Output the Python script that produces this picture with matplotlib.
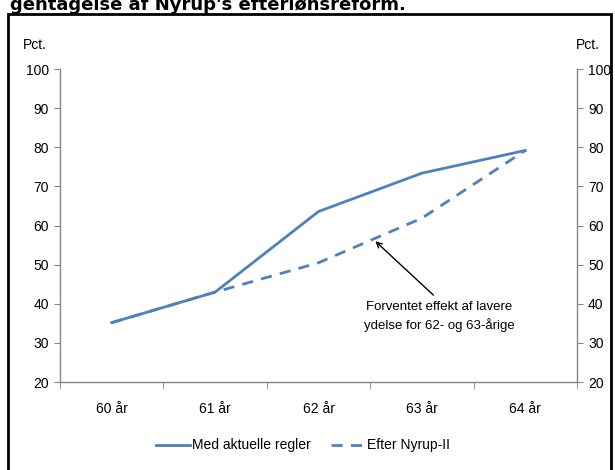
import matplotlib
matplotlib.use("Agg")
import matplotlib.pyplot as plt
from matplotlib.patches import Rectangle

plt.rcParams["font.family"] = ["Liberation Sans", "DejaVu Sans"]

categories = ["60 år", "61 år", "62 år", "63 år", "64 år"]
aktuelle = [35.2, 43.0, 63.6, 73.4, 79.2]
nyrup = [35.2, 43.0, 50.5, 61.9, 79.2]
yticks = [20, 30, 40, 50, 60, 70, 80, 90, 100]

blue = "#4F81BD"
gray = "#868686"

fig = plt.figure(figsize=(6.15, 4.7), dpi=100)
ax = fig.add_axes([0.0976, 0.187, 0.8406, 0.666])

x = list(range(len(categories)))
ax.plot(x, aktuelle, color=blue, lw=2, label="Med aktuelle regler")
ax.plot(x, nyrup, color=blue, lw=2, ls=(0, (4, 3)), label="Efter Nyrup-II")

ax.set_xlim(-0.5, len(categories) - 0.5)
ax.set_ylim(20, 100)
ax.set_yticks(yticks)
ax.set_xticks(x)
ax.set_xticklabels(categories)
ax.set_xticks([i - 0.5 for i in range(len(categories) + 1)], minor=True)
ax.tick_params(axis="x", which="major", length=0, pad=14, labelsize=10)
ax.tick_params(axis="x", which="minor", length=5, color=gray, direction="out")
ax.tick_params(axis="y", length=4, color=gray, labelsize=10, pad=4,
               labelleft=True, labelright=True, left=True, right=True)

for side in ["left", "right", "bottom"]:
    ax.spines[side].set_color(gray)
    ax.spines[side].set_linewidth(1)
ax.spines["top"].set_visible(False)

fig.text(35 / 615, 1 - 45 / 470, "Pct.", ha="center", va="center", fontsize=10)
fig.text(588 / 615, 1 - 45 / 470, "Pct.", ha="center", va="center", fontsize=10)

ax.annotate("Forventet effekt af lavere\nydelse for 62- og 63-årige",
            xy=(2.55, 56.0), xytext=(3.17, 40.8),
            ha="center", va="top", fontsize=9.5, linespacing=1.5,
            arrowprops=dict(arrowstyle="->", color="black", lw=1,
                            relpos=(0.5, 1.0), shrinkA=3, shrinkB=0))

ax.legend(loc="upper center", bbox_to_anchor=(0.47, -0.14), ncol=2, frameon=False,
          fontsize=10, handlelength=2.5, handletextpad=0.1, columnspacing=1.5)

fig.patches.append(Rectangle((8 / 615, -0.05), 603 / 615, 1.05 - 14 / 470,
                             transform=fig.transFigure, fill=False,
                             edgecolor="black", lw=2))

fig.text(10 / 615, 1 - 10 / 470, "gentagelse af Nyrup's efterlønsreform.",
         ha="left", va="baseline", fontsize=13, fontweight="bold",
         family=["DejaVu Sans"])

fig.savefig("out.png", dpi=100)
